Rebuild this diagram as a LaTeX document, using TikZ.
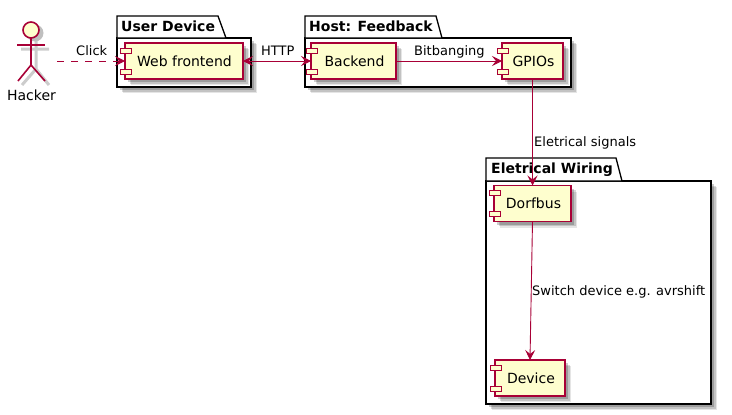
\documentclass[tikz,border=0pt]{standalone}
\usepackage{fontspec}
\setmainfont{DejaVu Sans}
\definecolor{UmlRed}{RGB}{168,0,54}
\definecolor{UmlCream}{RGB}{254,254,206}
\usetikzlibrary{arrows.meta, positioning, calc, shadows}
\tikzset{
  softshadow/.style={
    drop shadow={shadow xshift=6pt, shadow yshift=-6pt, fill=black, opacity=0.1},
    drop shadow={shadow xshift=4.5pt, shadow yshift=-4.5pt, fill=black, opacity=0.15},
    drop shadow={shadow xshift=3pt, shadow yshift=-3pt, fill=black, opacity=0.2}},
  umltip/.tip={Stealth[length=10pt, width=10pt, inset=4pt]},
  compbox/.style={draw=UmlRed, fill=UmlCream, line width=1.2pt, outer sep=0pt,
    minimum height=36pt, inner sep=0pt, font=\fontsize{14}{16}\selectfont, softshadow},
  compport/.style={draw=UmlRed, fill=UmlCream, line width=1pt},
  pkgbody/.style={draw=black, fill=white, line width=1.3pt, outer sep=0pt, inner sep=0pt, softshadow},
  pkgtab/.style={draw=black, fill=white, line width=1.3pt},
  pkgtitle/.style={font=\fontsize{14}{16}\selectfont\bfseries, inner sep=0pt, anchor=base west},
  linklabel/.style={font=\fontsize{13}{15}\selectfont, inner sep=0pt, anchor=base west},
  umllink/.style={draw=UmlRed, line width=0.9pt, -umltip},
  actorline/.style={draw=UmlRed, line width=1.6pt}
}
\begin{document}
\begin{tikzpicture}[x=1pt, y=-1pt]
  \useasboundingbox (0,0) rectangle (732,415);

  % packages
  \node[pkgbody, minimum width=134pt, minimum height=49pt] (userdev) at (184,62.5) {};
  \draw[pkgtab] (userdev.north west) -- ++(0,-22) -- ++(101,0) -- ++(8,22) -- cycle;
  \node[pkgtitle] (userdevtitle) at (121,31) {User Device};

  \node[pkgbody, minimum width=266pt, minimum height=49pt] (host) at (438,62.5) {};
  \draw[pkgtab] (host.north west) -- ++(0,-22) -- ++(131,0) -- ++(6,22) -- cycle;
  \node[pkgtitle] (hosttitle) at (309,31) {Host: Feedback};

  \node[pkgbody, minimum width=225pt, minimum height=223pt] (wiring) at (598.5,292.5) {};
  \draw[pkgtab] (wiring.north west) -- ++(0,-23) -- ++(130,0) -- ++(6,23) -- cycle;
  \node[pkgtitle] (wiringtitle) at (491,173) {Eletrical Wiring};

  % components
  \node[compbox, minimum width=118pt] (web) at (184,61) {\hspace*{1pt}Web frontend};
  \node[compbox, minimum width=85pt] (backend) at (353.5,61) {\hspace*{2pt}Backend};
  \node[compbox, minimum width=61pt] (gpios) at (532.5,61) {\hspace*{2pt}GPIOs};
  \node[compbox, minimum width=77pt] (dorfbus) at (532.5,203.5) {\hspace*{2pt}Dorfbus};
  \node[compbox, minimum width=70pt] (device) at (530,378) {\hspace*{2pt}Device};
  \foreach \comp in {web, backend, gpios, dorfbus, device} {
    \draw[compport] ($(\comp.north west)+(-5,5)$) rectangle ++(11,5);
    \draw[compport] ($(\comp.south west)+(-5,-10)$) rectangle ++(11,5);
  }

  % actor
  \draw[line width=3pt, draw=black!20] (36,39) -- (36,69) (21,49) -- (49,49)
    (36,69) -- (22,85) (36,69) -- (49,85);
  \node[circle, fill=black!25, minimum size=17pt, inner sep=0pt] (hackershade) at (35,33) {};
  \node[circle, actorline, fill=UmlCream, minimum size=16pt, inner sep=0pt, outer sep=0pt] (head) at (31,30) {};
  \coordinate (hip) at (31,65);
  \coordinate (hackerout) at (57,61);
  \draw[actorline] (head.south) -- (hip);
  \draw[actorline] (17,45) -- (45,45);
  \draw[actorline] (hip) -- (18,81);
  \draw[actorline] (hip) -- (45,81);
  \node[font=\fontsize{14}{16}\selectfont, inner sep=0pt, anchor=base] (hacker) at (31.5,100) {Hacker};

  % links
  \draw[umllink, dash pattern=on 7pt off 7pt] (hackerout) -- (web.west);
  \node[linklabel] (clicklabel) at (76,55) {Click};
  \draw[umllink, umltip-umltip] (web.east) -- (backend.west);
  \node[linklabel] (httplabel) at (261,55) {HTTP};
  \draw[umllink] (backend.east) -- (gpios.west);
  \node[linklabel] (bitlabel) at (414,55) {Bitbanging};
  \draw[umllink] (gpios.south) -- (dorfbus.north);
  \node[linklabel] (signallabel) at (534,146) {Eletrical signals};
  \draw[umllink] (dorfbus.south) -- (device.north);
  \node[linklabel] (switchlabel) at (532,295) {Switch device e.g. avrshift};
\end{tikzpicture}
\end{document}
